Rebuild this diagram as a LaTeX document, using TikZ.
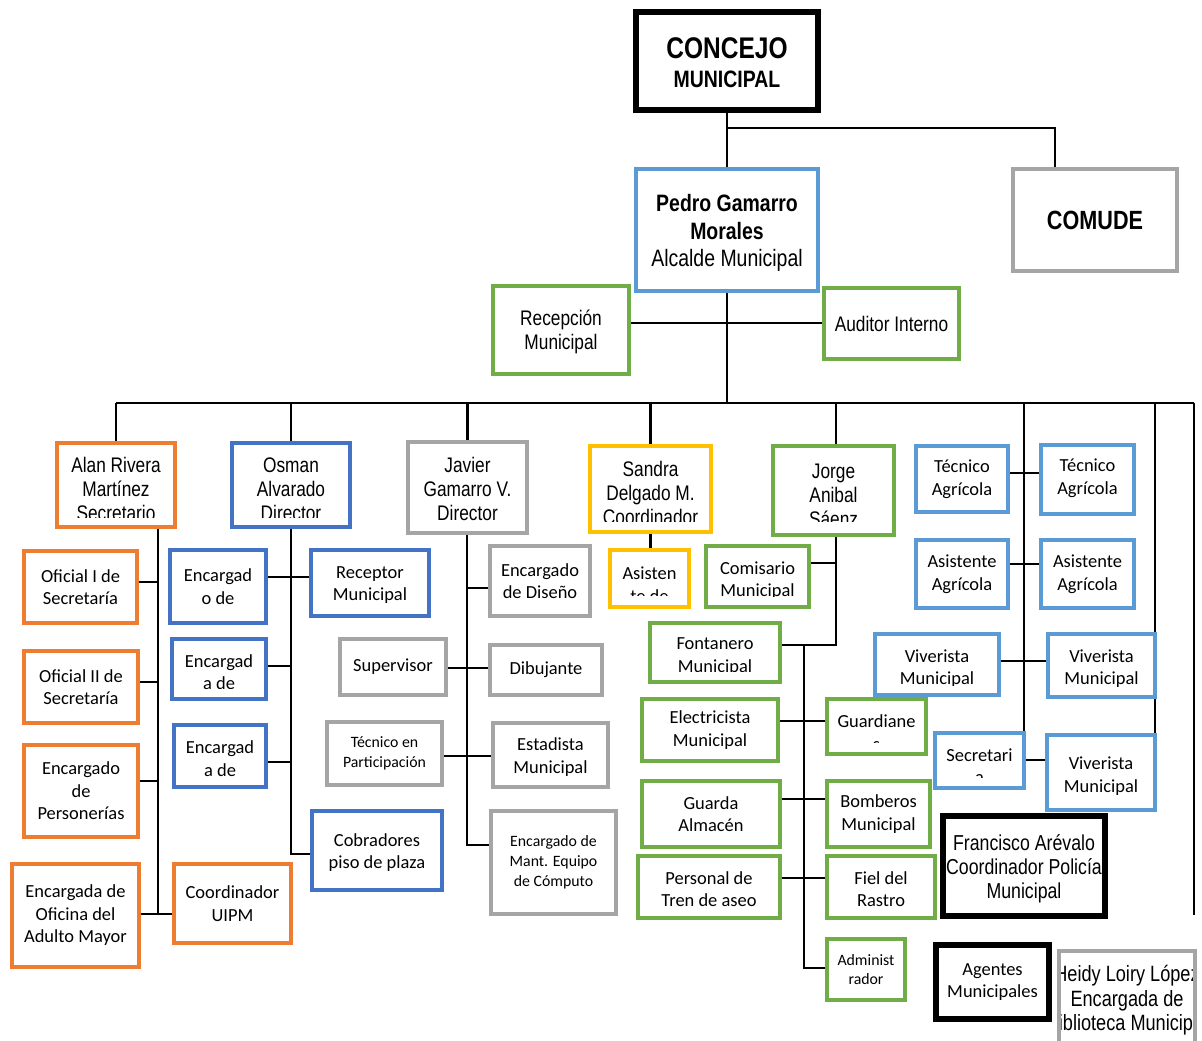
\documentclass[tikz,border=0pt]{standalone}
\usepackage{fontspec}
\setmainfont{Carlito}
\newfontfamily\nar[FakeStretch=0.82]{Liberation Sans}
\usetikzlibrary{backgrounds}
\definecolor{cor}{HTML}{ED7D31}
\definecolor{cbl}{HTML}{4472C4}
\definecolor{clb}{HTML}{5B9BD5}
\definecolor{cgr}{HTML}{A5A5A5}
\definecolor{cgn}{HTML}{70AD47}
\definecolor{cye}{HTML}{FFC000}
\newcommand\cfnt{\fontsize{10.5}{12.8}\selectfont}
\newcommand\sfnt{\fontsize{9}{11.3}\selectfont}
\newcommand\nfnt{\nar\fontsize{12}{13.6}\selectfont}
\tikzset{
  bx/.style={draw=#1, line width=2.4pt, fill=white, inner sep=0pt, outer sep=0pt},
  tx/.style={draw=none, fill=none, inner sep=0pt, outer sep=0pt, text=black, align=center, minimum width=0pt, minimum height=0pt},
  conn/.style={line width=1.4pt, draw=black},
}
% name, colour, x1, y1, x2, y2, text options, text
\newcommand\bx[8]{\node[bx=#2, minimum width={0.02cm*(#5-#3-4)}, minimum height={0.02cm*(#6-#4-4)},
  path picture={\node[tx,#7] at (path picture bounding box.center) {#8};}] (#1) at ({(#3+#5)/2},{(#4+#6)/2}) {};}
% same, with the lowest #9 px of the text area hidden
\newcommand\bxc[9]{\node[bx=#2, minimum width={0.02cm*(#5-#3-4)}, minimum height={0.02cm*(#6-#4-4)},
  path picture={\node[tx,#7] at (path picture bounding box.center) {#8};
    \fill[white] (path picture bounding box.south west) rectangle ([yshift={0.02cm*#9}]path picture bounding box.south east);}] (#1) at ({(#3+#5)/2},{(#4+#6)/2}) {};}
\begin{document}
\begin{tikzpicture}[x=0.02cm, y=-0.02cm]
\useasboundingbox (0,0) rectangle (1202,1040);
% top
\bx{concejo}{black, line width=3pt}{634}{10}{820}{112}{font=\nar\bfseries\fontsize{13.5}{16.3}\selectfont, yshift=-0.04cm}{{\fontsize{17}{16.3}\selectfont CONCEJO}\\MUNICIPAL}
\bx{comude}{cgr}{1011}{167}{1179}{273}{font=\nar\bfseries\fontsize{15}{17}\selectfont}{COMUDE}
\bx{pedro}{clb}{634}{167}{820}{293}{font=\nar\fontsize{13.5}{15.6}\selectfont, yshift=-0.06cm}{\textbf{Pedro Gamarro}\\\textbf{Morales}\\Alcalde Municipal}
\bx{recep}{cgn}{491}{284}{631}{376}{font=\nfnt, yshift=-0.03cm}{Recepción\\Municipal}
\bx{aud}{cgn}{822}{286}{961}{361}{font=\nfnt}{Auditor Interno}
% heads
\bxc{alan}{cor}{55}{441}{177}{529}{font=\nfnt, yshift=-0.08cm}{Alan Rivera\\Martínez\\Secretario}{9}
\bxc{osman}{cbl}{230}{441}{352}{529}{font=\nfnt, yshift=-0.08cm}{Osman\\Alvarado\\Director}{9}
\bx{javier}{cgr}{406}{440}{529}{535}{font=\nfnt, yshift=-0.03cm}{Javier\\Gamarro V.\\Director}
\bxc{sandra}{cye}{588}{444}{713}{534}{font=\nfnt, yshift=-0.08cm}{Sandra\\Delgado M.\\Coordinador}{10}
\bxc{jorge}{cgn}{771}{444}{896}{537}{font=\nfnt, yshift=-0.09cm}{Jorge\\Anibal\\Sáenz}{13}
% Alan column
\bx{of1}{cor}{22}{549}{139}{625}{font=\cfnt}{Oficial I de\\Secretaría}
\bx{of2}{cor}{22}{649}{140}{725}{font=\cfnt}{Oficial II de\\Secretaría}
\bx{pers}{cor}{22}{743}{140}{839}{font=\cfnt}{Encargado\\de\\Personerías}
\bx{adulto}{cor}{10}{862}{141}{969}{font=\cfnt}{Encargada de\\Oficina del\\Adulto Mayor}
\bx{uipm}{cor}{172}{862}{293}{945}{font=\cfnt}{Coordinador\\UIPM}
% Osman column
\bx{enc1}{cbl}{168}{548}{268}{625}{font=\cfnt}{Encargad\\o de}
\bxc{enc2}{cbl}{170}{637}{268}{701}{font=\cfnt, yshift=-0.06cm}{Encargad\\a de}{10}
\bx{enc3}{cbl}{172}{723}{268}{789}{font=\cfnt, yshift=-0.05cm}{Encargad\\a de}
\bx{rec}{cbl}{309}{548}{431}{618}{font=\cfnt, yshift=-0.04cm}{Receptor\\Municipal}
\bx{cobr}{cbl}{310}{809}{444}{892}{font=\cfnt, yshift=-0.04cm}{Cobradores\\piso de plaza}
% Javier column
\bx{dis}{cgr}{488}{544}{592}{618}{font=\cfnt}{Encargado\\de Diseño}
\bx{sup}{cgr}{338}{637}{448}{697}{font=\cfnt}{Supervisor}
\bx{dib}{cgr}{488}{643}{604}{697}{font=\cfnt}{Dibujante}
\bx{tecp}{cgr}{325}{720}{444}{787}{font=\sfnt}{Técnico en\\Participación}
\bx{est}{cgr}{491}{721}{610}{789}{font=\cfnt, yshift=-0.04cm}{Estadista\\Municipal}
\bx{mant}{cgr}{489}{809}{618}{916}{font=\sfnt}{Encargado de\\Mant. Equipo\\de Cómputo}
% Sandra
\bxc{asis}{cye}{608}{548}{691}{609}{font=\cfnt, yshift=-0.12cm}{Asisten\\te de}{11}
% Jorge column
\bxc{com}{cgn}{704}{544}{811}{609}{font=\cfnt, yshift=-0.08cm}{Comisario\\Municipal}{10}
\bxc{font}{cgn}{648}{621}{782}{684}{font=\cfnt, yshift=-0.08cm}{Fontanero\\Municipal}{10}
\bx{elec}{cgn}{640}{697}{780}{763}{font=\cfnt}{Electricista\\Municipal}
\bxc{guard}{cgn}{825}{697}{928}{756}{font=\cfnt, yshift=-0.12cm}{Guardiane\\s}{11}
\bx{galm}{cgn}{640}{779}{782}{849}{font=\cfnt}{Guarda\\Almacén}
\bx{bomb}{cgn}{825}{779}{932}{849}{font=\cfnt}{Bomberos\\Municipal}
\bx{perst}{cgn}{636}{854}{782}{920}{font=\cfnt, yshift=-0.04cm}{Personal de\\Tren de aseo}
\bx{fiel}{cgn}{825}{854}{937}{920}{font=\cfnt, yshift=-0.04cm}{Fiel del\\Rastro}
\bx{adm}{cgn}{825}{937}{907}{1002}{font=\sfnt}{Administ\\rador}
% right cluster
\bx{tec1}{clb}{914}{444}{1010}{514}{font=\cfnt}{Técnico\\Agrícola}
\bx{tec2}{clb}{1039}{443}{1136}{516}{font=\cfnt, yshift=0.03cm}{Técnico\\Agrícola}
\bx{asa1}{clb}{914}{538}{1010}{610}{font=\cfnt}{Asistente\\Agrícola}
\bx{asa2}{clb}{1039}{538}{1136}{610}{font=\cfnt}{Asistente\\Agrícola}
\bxc{viv1}{clb}{873}{632}{1001}{697}{font=\cfnt, yshift=-0.08cm}{Viverista\\Municipal}{9}
\bx{viv2}{clb}{1046}{632}{1157}{699}{font=\cfnt, yshift=-0.06cm}{Viverista\\Municipal}
\bxc{secr}{clb}{933}{731}{1026}{790}{font=\cfnt, yshift=-0.11cm}{Secretari\\a}{10}
\bx{viv3}{clb}{1045}{733}{1157}{812}{font=\cfnt, yshift=-0.07cm}{Viverista\\Municipal}
\bx{fran}{black, line width=3.4pt}{941}{814}{1107}{918}{font=\nar\fontsize{12.3}{13.8}\selectfont, yshift=-0.06cm}{Francisco Arévalo\\Coordinador Policía\\Municipal}
\bx{agen}{black, line width=3pt}{934}{943}{1051}{1021}{font=\cfnt}{Agentes\\Municipales}
\bx{heidy}{cgr}{1057}{949}{1197}{1062}{font=\nar\fontsize{12.6}{14}\selectfont, yshift=0.1cm}{Heidy Loiry López\\Encargada de\\Biblioteca Municipal}
% connectors
\begin{scope}[on background layer]
\draw[conn] (concejo.south) -- (pedro.north);
\coordinate (cj1) at (727,128);
\coordinate (cj2) at (1055,128);
\draw[conn] (cj1) -- (cj2) -- (cj2 |- comude.north);
\draw[conn] (recep.east |- 0,323) -- (aud.west |- 0,323);
\coordinate (busL) at (116,403);
\coordinate (busR) at (1194,403);
\draw[conn] (pedro.south) -- (pedro.south |- busL);
\draw[conn] (busL) -- (busR);
\draw[conn] (alan.north |- busL) -- (alan.north);
\draw[conn] (osman.north |- busL) -- (osman.north);
\draw[conn] (javier.north |- busL) -- (javier.north);
\draw[conn] (sandra.north |- busL) -- (sandra.north);
\coordinate (jx) at (836,645);
\draw[conn] (jx |- busL) -- (jx |- jorge.north);
% right side
\draw[conn] (secr.north east |- busL) -- (secr.north east);
\draw[conn] (viv3.south east |- busL) -- (viv3.south east);
\coordinate (rr) at (1194,915);
\draw[conn] (busR) -- (rr);
\draw[conn] (tec1.east |- 0,473) -- (tec2.west |- 0,473);
\draw[conn] (asa1.east |- 0,564) -- (asa2.west |- 0,564);
\draw[conn] (viv1.east |- 0,661) -- (viv2.west |- 0,661);
\draw[conn] (secr.east |- 0,760) -- (viv3.west |- 0,760);
% Alan
\coordinate (aB) at (158,914);
\draw[conn] (aB |- alan.south) -- (aB);
\draw[conn] (of1.east |- 0,582) -- (aB |- 0,582);
\draw[conn] (of2.east |- 0,682) -- (aB |- 0,682);
\draw[conn] (pers.east |- 0,781) -- (aB |- 0,781);
\draw[conn] (adulto.east |- aB) -- (uipm.west |- aB);
% Osman
\coordinate (oB) at (291,854);
\draw[conn] (oB |- osman.south) -- (oB) -- (cobr.west |- oB);
\draw[conn] (enc1.east |- 0,577) -- (rec.west |- 0,577);
\draw[conn] (enc2.east |- 0,666) -- (oB |- 0,666);
\draw[conn] (enc3.east |- 0,762) -- (oB |- 0,762);
% Javier
\coordinate (jvB) at (467,845);
\draw[conn] (jvB |- javier.south) -- (jvB) -- (mant.west |- jvB);
\draw[conn] (jvB |- 0,588) -- (dis.west |- 0,588);
\draw[conn] (sup.east |- 0,668) -- (dib.west |- 0,668);
\draw[conn] (tecp.east |- 0,756) -- (est.west |- 0,756);
% Sandra
\draw[conn] (sandra.south) -- (sandra.south |- asis.north);
% Jorge
\draw[conn] (jx |- jorge.south) -- (jx) -- (font.east |- jx);
\draw[conn] (com.east |- 0,563) -- (jx |- 0,563);
\coordinate (k1) at (804,645);
\coordinate (k2) at (804,968);
\draw[conn] (k1) -- (k2) -- (adm.west |- k2);
\draw[conn] (elec.east |- 0,721) -- (guard.west |- 0,721);
\draw[conn] (galm.east |- 0,799) -- (bomb.west |- 0,799);
\draw[conn] (perst.east |- 0,878) -- (fiel.west |- 0,878);
\end{scope}
\end{tikzpicture}
\end{document}
